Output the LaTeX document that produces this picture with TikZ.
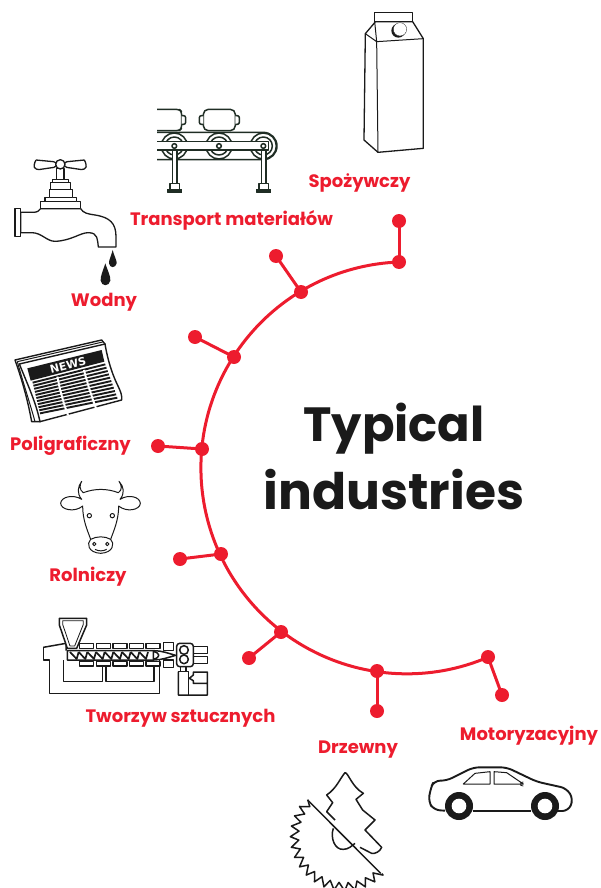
\documentclass[tikz,border=0pt]{standalone}
\usepackage{fontspec}
\setmainfont{Poppins}
\newfontfamily\newsfont{DejaVu Sans}
\definecolor{abbred}{HTML}{ED1C2E}
\definecolor{ink}{HTML}{1A1A1A}
\definecolor{belt}{HTML}{1F2D24}
\tikzset{
  dot/.style={circle,fill=abbred,draw=none,minimum size=14pt,inner sep=0pt},
  stem/.style={abbred,line width=3pt},
  rim/.style={abbred,line width=3pt},
  lab/.style={text=abbred,font=\fontsize{18}{20}\selectfont\bfseries,inner sep=0pt},
  ttl/.style={text=ink,font=\fontsize{48}{54}\selectfont\bfseries,inner sep=0pt},
  ico/.style={draw=ink,line width=1.3pt,line join=round,fill=white},
  icothin/.style={draw=ink,line width=1pt,line join=round},
}
\begin{document}
\begin{tikzpicture}[x=1pt,y=-1pt]
\useasboundingbox (0,0) rectangle (601,888);
% ---- arc and pins
\coordinate (arcC) at (407,467);
\node[dot] (a1) at (399,262) {};
\node[dot] (a2) at (301,292) {};
\node[dot] (a3) at (234,357) {};
\node[dot] (a4) at (202,449) {};
\node[dot] (a5) at (221,554) {};
\node[dot] (a6) at (281,632) {};
\node[dot] (a7) at (377,671) {};
\node[dot] (a8) at (488,657) {};
\node[dot] (b1) at (399,221) {};
\node[dot] (b2) at (276,256) {};
\node[dot] (b3) at (195,337) {};
\node[dot] (b4) at (158,446) {};
\node[dot] (b5) at (180,559) {};
\node[dot] (b6) at (249,658) {};
\node[dot] (b7) at (377,711) {};
\node[dot] (b8) at (502,695) {};
\draw[rim] (a1.center) arc[start angle=267.8,end angle=66.9,radius=206];
\foreach \i in {1,...,8}{\draw[stem] (a\i.center) -- (b\i.center);}
% ---- text
\node[ttl] (t1) at (394,429) {Typical};
\node[ttl,font=\fontsize{50.3}{54}\selectfont\bfseries] (t2) at (394,490) {industries};
\node[lab] (l1) at (359.5,183) {Spożywczy};
\node[lab] (l2) at (231.5,220) {Transport materiałów};
\node[lab] (l3) at (104,302) {Wodny};
\node[lab] (l4) at (70.5,446) {Poligraficzny};
\node[lab] (l5) at (88,577) {Rolniczy};
\node[lab] (l6) at (180.5,718) {Tworzyw sztucznych};
\node[lab] (l7) at (358,750) {Drzewny};
\node[lab] (l8) at (529,736) {Motoryzacyjny};
% ---- carton
\begin{scope}[shift={(340,0)},scale=1/3]
\draw[ico] (104,38) -- (218,38) -- (218,65) -- (104,65) -- cycle;
\draw[ico] (104,68) -- (76,101) -- (72,420) -- (114,457) -- (250,445) -- (250,116) -- (218,65) -- (104,65) -- cycle;
\draw[icothin] (76,101) -- (110,125) -- (114,457);
\draw[icothin] (110,125) -- (250,116);
\draw[icothin] (104,65) -- (110,125);
\fill[ink] (175,92) circle (21);
\fill[white,draw=ink,line width=.3pt] (180,88) circle (20);
\end{scope}
% ---- faucet
\begin{scope}[shift={(0,100)},scale=1/3]
\draw[ico] (45,325) rectangle (62,410);
\draw[ico] (62,337) -- (100,337) .. controls (112,337) and (118,332) .. (122,326)
  -- (242,326) .. controls (250,340) and (265,342) .. (285,345)
  .. controls (330,352) and (348,370) .. (348,410) -- (348,441) -- (295,441)
  .. controls (292,420) and (295,398) .. (265,398)
  .. controls (240,398) and (215,422) .. (165,424)
  .. controls (140,424) and (125,398) .. (95,398) -- (62,398) -- cycle;
\draw[ico] (122,305) rectangle (242,326);
\draw[ico] (135,293) rectangle (230,305);
\draw[ico] (148,268) rectangle (218,293);
\draw[ico] (152,247) rectangle (212,268);
\draw[ico] (157,238) rectangle (205,247);
\draw[ico] (170,205) rectangle (192,238);
\draw[ico,rounded corners=3pt] (108,180) -- (170,186) -- (170,201) -- (108,210) .. controls (102,200) and (102,190) .. (108,180);
\draw[ico,rounded corners=3pt] (253,180) -- (192,186) -- (192,201) -- (253,210) .. controls (259,200) and (259,190) .. (253,180);
\draw[ico] (181,193) circle (14);
\fill[ink] (338,450) .. controls (332,472) and (326,482) .. (327,490) .. controls (329,505) and (347,505) .. (350,490) .. controls (351,482) and (344,472) .. (338,450);
\fill[ink] (316,490) .. controls (308,515) and (301,528) .. (302,542) .. controls (304,560) and (328,560) .. (331,542) .. controls (332,528) and (324,515) .. (316,490);
\end{scope}
% ---- conveyor
\begin{scope}[shift={(0,100)},scale=1/3,every path/.append style={draw=belt,line width=1.5pt,line join=round}]
\draw (471,97) -- (790,97) arc[start angle=-90,end angle=90,radius=41] -- (471,179);
\foreach \x in {523,657,790}{
  \draw[fill=white] (\x,138) circle (39);
  \draw (\x,138) circle (27);
}
\draw[fill=white] (471,125) -- (805,125) -- (805,150) -- (471,150);
\foreach \x in {523,657,790}{\draw[fill=white] (\x,138) circle (7);}
\draw[fill=white,rounded corners=3pt] (471,28) -- (538,28) -- (545,35) -- (545,85) -- (538,92) -- (471,92);
\draw[fill=white,rounded corners=2pt] (545,47) -- (557,47) -- (557,73) -- (545,73);
\draw[fill=white,rounded corners=5pt] (610,28) rectangle (706,92);
\draw[fill=white,rounded corners=2pt] (610,47) -- (598,47) -- (598,73) -- (610,73);
\draw[fill=white,rounded corners=2pt] (706,47) -- (718,47) -- (718,73) -- (706,73);
\foreach \x in {524,791}{
  \draw[fill=white] (\x-7,150) rectangle (\x+7,250);
  \draw[fill=white] (\x-14,250) rectangle (\x+14,268);
  \draw[fill=belt] (\x-21,268) rectangle (\x+21,278);
}
\end{scope}
% ---- newspaper
\begin{scope}[shift={(0,340)},scale=1/3]
\draw[ico,line width=1.4pt] (45,60) -- (305,0) -- (315,12) -- (120,245) -- (95,245) .. controls (85,190) and (70,130) .. (45,60) -- cycle;
\draw[icothin] (52,65) -- (308,6);
\draw[icothin] (52,65) .. controls (70,130) and (90,190) .. (105,245);
\draw[ico,line width=1.4pt] (58,72) -- (315,12) .. controls (325,70) and (340,110) .. (355,140) .. controls (362,155) and (367,168) .. (365,180) -- (120,245) .. controls (108,190) and (90,150) .. (58,72) -- cycle;
\fill[ink] (82,85) -- (305,30) -- (313,65) -- (92,122) -- cycle;
\foreach \t in {0,.1,...,1.01}{
  \draw[ink,line width=1.9pt] ({98+22*\t},{128+92*\t}) -- ({316+36*\t},{73+100*\t});
}
\draw[white,line width=2pt] (172,110) .. controls (180,150) and (190,190) .. (204,225);
\draw[white,line width=2pt] (252,90) .. controls (262,130) and (275,170) .. (288,205);
\node[rotate=14,text=white,font=\newsfont\fontsize{11}{12}\selectfont\bfseries,inner sep=0pt] (news) at (204,76) {NEWS};
\end{scope}
% ---- cow
\begin{scope}[shift={(0,340)},scale=1/3,every path/.append style={icothin}]
\draw (250,458) .. controls (285,445) and (320,445) .. (355,458)
  .. controls (368,450) and (365,435) .. (357,424)
  .. controls (372,440) and (375,460) .. (360,478)
  .. controls (385,462) and (420,470) .. (421,490)
  .. controls (420,510) and (380,518) .. (356,498)
  .. controls (356,540) and (342,570) .. (332,598)
  .. controls (345,610) and (340,638) .. (302,640)
  .. controls (264,638) and (259,610) .. (272,598)
  .. controls (262,570) and (248,540) .. (248,498)
  .. controls (225,518) and (183,510) .. (182,490)
  .. controls (183,470) and (220,462) .. (245,478)
  .. controls (230,460) and (233,440) .. (245,424)
  .. controls (238,435) and (238,450) .. (250,458) -- cycle;
\draw (268,527) circle (6.5);
\draw (337,527) circle (6.5);
\draw (272,598) .. controls (290,588) and (315,588) .. (332,598);
\draw (283,612) circle (5);
\draw (322,612) circle (5);
\draw (285,628) .. controls (295,634) and (310,634) .. (320,628);
\end{scope}
% ---- extruder
\begin{scope}[shift={(30,610)},scale=1/3,every path/.append style={draw=ink,line width=1.5pt,line join=round}]
\draw (40,112) -- (108,100) -- (108,122);
\draw (40,112) -- (40,150) -- (58,150) -- (58,250) -- (388,250) -- (388,150);
\draw (100,150) -- (100,215) -- (218,215) -- (218,168);
\draw (228,168) -- (228,215) -- (372,215) -- (372,168);
\draw[fill=white] (88,25) -- (170,25) -- (170,45) -- (140,115) -- (112,115) -- (88,45) -- cycle;
\draw[line width=.8pt] (98,32) -- (160,32) -- (160,43) -- (134,108) -- (120,108) -- (98,43) -- cycle;
\draw (112,122) -- (372,122) .. controls (395,122) and (415,130) .. (437,136) .. controls (415,142) and (395,150) .. (372,150) -- (112,150) -- cycle;
\foreach \x in {120,146,172,198,224,250,276,302,328}{
  \draw[line width=1.7pt] (\x,126) -- (\x+20,147) -- (\x+26,126);
}
\draw (370,124) .. controls (392,130) and (392,142) .. (370,148) -- cycle;
\foreach \x in {148,199,249,299,348}{
  \draw (\x,100) rectangle (\x+42,115);
  \draw (\x,155) rectangle (\x+42,168);
}
\draw (400,98) rectangle (430,122);
\draw (400,150) rectangle (430,172);
\draw[fill=white,rounded corners=3pt] (440,100) rectangle (490,170);
\draw (462,120) circle (13);
\draw (462,148) circle (13);
\draw (490,110) -- (532,110) -- (532,130) -- (490,130);
\draw (490,140) -- (532,140) -- (532,160) -- (490,160);
\draw (452,170) -- (452,185) -- (468,185) -- (468,170);
\draw (445,185) -- (445,255) -- (532,255) -- (532,220) -- (490,220) -- (490,212) -- (478,205) -- (490,195) -- (490,186) -- (532,186) -- (532,220);
\draw (445,185) -- (475,185) -- (475,255);
\end{scope}
% ---- tree and saw
\begin{scope}[shift={(280,760)},scale=1/3]
\draw[draw=ink,line width=1.5pt,line join=round] (165,180) -- (140,155) -- (158,128) -- (140,105) .. controls (170,85) and (180,55) .. (195,38)
 .. controls (205,38) and (215,80) .. (250,100) -- (228,118) -- (248,150) -- (285,180) -- (255,210) -- (305,262) .. controls (300,275) and (285,282) .. (275,280) -- (240,262);
\draw[draw=ink,line width=1.5pt] (160,205) .. controls (150,235) and (165,270) .. (190,268) .. controls (205,268) and (215,258) .. (225,250);
\draw[draw=ink,line width=1.5pt] (83,120) -- (302,340);
\begin{scope}[shift={(194,230)}]
\draw[draw=ink,line width=1.5pt,line join=round] (225:157) \foreach \i in {1,...,16}{ -- ({225-\i*11.25+7}:138) -- ({225-\i*11.25}:163)} -- (45:157);
\end{scope}
\end{scope}
% ---- car
\begin{scope}[shift={(280,760)},scale=1/3]
\draw[draw=ink,line width=1.9pt,line join=round,rounded corners=6pt] (495,152) -- (462,150) -- (445,125) -- (452,85) -- (462,62) -- (500,62) -- (580,22) -- (680,22) -- (770,65) -- (860,85) -- (880,118) -- (865,153) -- (830,153);
\draw[draw=ink,line width=1.6pt] (578,153) -- (752,153);
\draw[draw=ink,line width=1pt,line join=round] (550,72) -- (585,40) -- (630,35) -- (630,72) -- cycle;
\draw[draw=ink,line width=1pt,line join=round] (642,35) -- (680,38) -- (730,72) -- (642,72) -- cycle;
\draw[draw=ink,line width=.8pt] (730,66) -- (722,68) -- (722,76) -- (730,78);
\foreach \x in {537,795}{
  \fill[ink] (\x,138) circle (42);
  \fill[white] (\x,138) circle (22);
}
\end{scope}
\end{tikzpicture}
\end{document}
